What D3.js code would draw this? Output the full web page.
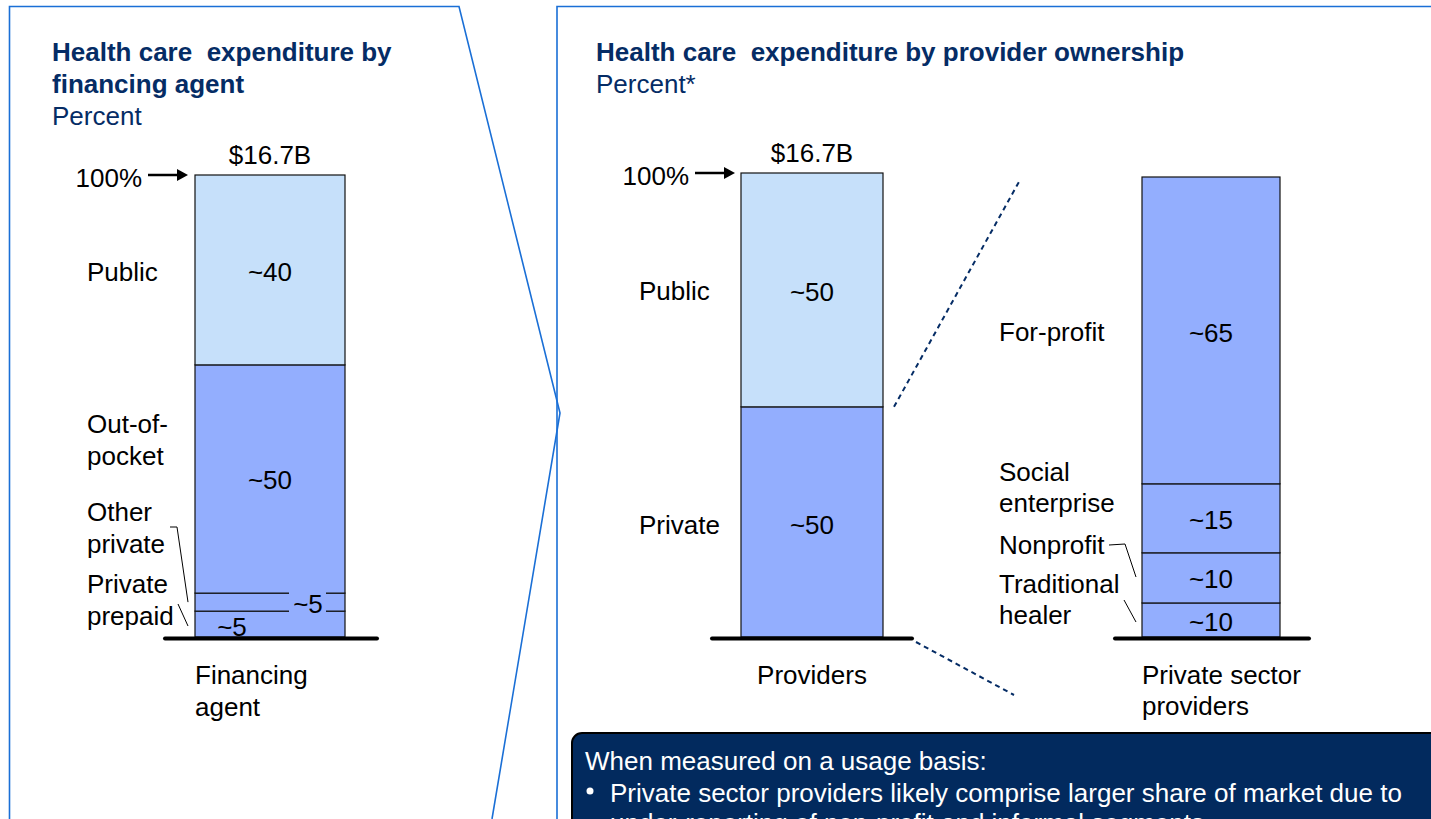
<!DOCTYPE html>
<html><head><meta charset="utf-8">
<script src="https://cdn.jsdelivr.net/npm/d3@7"></script>
<style>
html,body{margin:0;padding:0;background:#fff;overflow:hidden}
svg{display:block;font-family:"Liberation Sans",Arial,sans-serif}
text{white-space:pre}
</style></head>
<body>
<svg id="c" width="1431" height="819"></svg>
<script>
// ---------- data ----------
const financingCats   = ["Private prepaid","Other private","Out-of-pocket","Public"];
const financingVals   = [5.6, 3.9, 49.4, 41.1];
const financingLabels = ["~5","~5","~50","~40"];

const providerCats   = ["Private","Public"];
const providerVals   = [49.6, 50.4];
const providerLabels = ["~50","~50"];

const privateCats   = ["Traditional healer","Nonprofit","Social enterprise","For-profit"];
const privateVals   = [7.4, 10.9, 15.0, 66.7];
const privateLabels = ["~10","~10","~15","~65"];

const totalLabel = "$16.7B";
const topTick = "100%";

// ---------- styles ----------
const NAVY = "#052c65", BORDER = "#1a6fd6";
const LIGHT = "#c6e0fa", MED = "#93aefe";
const svg = d3.select("#c");
const FONT = 26;

function txt(x, y, s, opt = {}) {
  return svg.append("text").attr("x", x).attr("y", y).attr("dy", "0.35em")
    .attr("font-size", opt.size || FONT).attr("font-weight", opt.bold ? "bold" : "normal")
    .attr("fill", opt.fill || "#000").attr("text-anchor", opt.anchor || "start").text(s);
}

// panel outlines
svg.append("path").attr("d", "M9.5,819 L9.5,6.5 L459,6.5 L560,413 L492,819")
  .attr("fill", "none").attr("stroke", BORDER).attr("stroke-width", 1.6);
svg.append("path").attr("d", "M557,819 L557,6.5 L1431,6.5")
  .attr("fill", "none").attr("stroke", BORDER).attr("stroke-width", 1.6);

// titles
txt(52, 52, "Health care  expenditure by", {bold: true, fill: NAVY});
txt(52, 84, "financing agent", {bold: true, fill: NAVY});
txt(52, 116, "Percent", {fill: NAVY});
txt(596, 52, "Health care  expenditure by provider ownership", {bold: true, fill: NAVY});
txt(596, 84, "Percent*", {fill: NAVY});

// generic stacked bar
function stackedBar(cats, vals, opts) {
  const y = d3.scaleLinear().domain([0, d3.sum(vals)]).range([opts.bottom, opts.top]);
  const x = d3.scaleBand().domain([opts.cat]).range([opts.x0, opts.x1]).padding(0);
  const stacked = d3.stack().keys(cats)([Object.fromEntries(cats.map((c, i) => [c, vals[i]]))]);
  const g = svg.append("g");
  g.selectAll("rect").data(stacked).join("rect")
    .attr("x", x(opts.cat)).attr("width", x.bandwidth())
    .attr("y", d => y(d[0][1])).attr("height", d => y(d[0][0]) - y(d[0][1]))
    .attr("fill", (d, i) => opts.colors[i]).attr("stroke", "#111").attr("stroke-width", 1.2);
  svg.append("line").attr("x1", opts.b0).attr("x2", opts.b1)
    .attr("y1", opts.bottom + 1.5).attr("y2", opts.bottom + 1.5)
    .attr("stroke", "#000").attr("stroke-width", 4).attr("stroke-linecap", "round");
  return {x, y, stacked, cx: (opts.x0 + opts.x1) / 2};
}

function topArrow(xText, xa0, xa1, yv) {
  txt(xText, yv + 3, topTick, {anchor: "end"});
  svg.append("line").attr("x1", xa0).attr("x2", xa1 - 8).attr("y1", yv).attr("y2", yv)
    .attr("stroke", "#000").attr("stroke-width", 2.5);
  svg.append("path").attr("d", `M${xa1},${yv} L${xa1 - 11},${yv - 6} L${xa1 - 11},${yv + 6} Z`).attr("fill", "#000");
}

// ---------- left chart ----------
const L = stackedBar(financingCats, financingVals, {
  cat: "Financing agent", x0: 195, x1: 345, top: 175, bottom: 637, b0: 165, b1: 377,
  colors: [MED, MED, MED, LIGHT]
});
const mid = (s, i) => (L.y(s[i][0][0]) + L.y(s[i][0][1])) / 2;
txt(L.cx, 155, totalLabel, {anchor: "middle"});
topArrow(142, 148, 188, L.y(100));
txt(L.cx, mid(L.stacked, 3) + 2, financingLabels[3], {anchor: "middle"});
txt(L.cx, mid(L.stacked, 2) + 1, financingLabels[2], {anchor: "middle"});
svg.append("rect").attr("x", 289).attr("y", L.y(financingVals[0] + financingVals[1]) - 2)
  .attr("width", 37).attr("height", L.y(financingVals[0]) - L.y(financingVals[0] + financingVals[1]) + 4).attr("fill", MED);
txt(308, mid(L.stacked, 1) + 2, financingLabels[1], {anchor: "middle"});
txt(232, mid(L.stacked, 0) + 3, financingLabels[0], {anchor: "middle"});
txt(87, 272, "Public");
txt(87, 424, "Out-of-");
txt(87, 456, "pocket");
txt(87, 512, "Other");
txt(87, 544, "private");
txt(87, 584, "Private");
txt(87, 616, "prepaid");
svg.append("polyline").attr("points", `170,527 177,527 188,${mid(L.stacked, 1)}`)
  .attr("fill", "none").attr("stroke", "#000").attr("stroke-width", 1);
svg.append("line").attr("x1", 178).attr("y1", 604).attr("x2", 188).attr("y2", 626)
  .attr("stroke", "#000").attr("stroke-width", 1);
txt(195, 675, "Financing");
txt(195, 707, "agent");

// ---------- providers chart ----------
const P = stackedBar(providerCats, providerVals, {
  cat: "Providers", x0: 741, x1: 883, top: 173, bottom: 637, b0: 712, b1: 912,
  colors: [MED, LIGHT]
});
const pm = i => (P.y(P.stacked[i][0][0]) + P.y(P.stacked[i][0][1])) / 2;
txt(P.cx, 153, totalLabel, {anchor: "middle"});
topArrow(689, 695, 735, P.y(100));
txt(P.cx, pm(1) + 2, providerLabels[1], {anchor: "middle"});
txt(P.cx, pm(0) + 3, providerLabels[0], {anchor: "middle"});
txt(639, 291, "Public");
txt(639, 525, "Private");
txt(P.cx, 675, "Providers", {anchor: "middle"});

svg.append("line").attr("x1", 894).attr("y1", P.y(providerVals[0])).attr("x2", 1020).attr("y2", 180)
  .attr("stroke", NAVY).attr("stroke-width", 2).attr("stroke-dasharray", "5,4");
svg.append("line").attr("x1", 916).attr("y1", 642).attr("x2", 1014).attr("y2", 695)
  .attr("stroke", NAVY).attr("stroke-width", 2).attr("stroke-dasharray", "5,4");

// ---------- private sector chart ----------
const S = stackedBar(privateCats, privateVals, {
  cat: "Private sector providers", x0: 1142, x1: 1280, top: 177, bottom: 637, b0: 1115, b1: 1309,
  colors: [MED, MED, MED, MED]
});
const sm = i => (S.y(S.stacked[i][0][0]) + S.y(S.stacked[i][0][1])) / 2;
txt(S.cx, sm(3) + 2, privateLabels[3], {anchor: "middle"});
txt(S.cx, sm(2) + 2, privateLabels[2], {anchor: "middle"});
txt(S.cx, sm(1) + 1, privateLabels[1], {anchor: "middle"});
txt(S.cx, sm(0) + 2, privateLabels[0], {anchor: "middle"});
txt(999, 332, "For-profit");
txt(999, 472, "Social");
txt(999, 503, "enterprise");
txt(999, 545, "Nonprofit");
txt(999, 584, "Traditional");
txt(999, 615, "healer");
svg.append("polyline").attr("points", "1109,545 1125,544 1136,577")
  .attr("fill", "none").attr("stroke", "#000").attr("stroke-width", 1);
svg.append("line").attr("x1", 1124).attr("y1", 600).attr("x2", 1136).attr("y2", 622)
  .attr("stroke", "#000").attr("stroke-width", 1);
txt(1142, 675, "Private sector");
txt(1142, 706, "providers");

// ---------- callout ----------
svg.append("rect").attr("x", 572).attr("y", 733).attr("width", 880).attr("height", 120)
  .attr("rx", 10).attr("fill", "#022a5e").attr("stroke", "#000").attr("stroke-width", 2);
txt(585, 761, "When measured on a usage basis:", {fill: "#fff"});
svg.append("circle").attr("cx", 590).attr("cy", 791).attr("r", 3.5).attr("fill", "#fff");
txt(610, 793, "Private sector providers likely comprise larger share of market due to", {fill: "#fff"});
txt(610, 823, "under-reporting of non-profit and informal segments", {fill: "#fff"});
</script>
</body></html>
